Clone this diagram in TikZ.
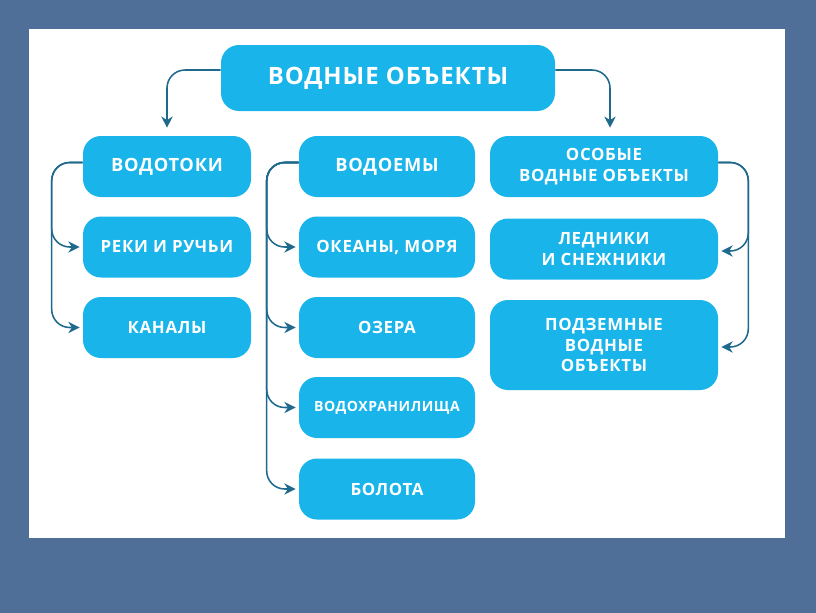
\documentclass[tikz,border=0pt]{standalone}
\usepackage{fontspec}
\setmainfont{Open Sans}
\newfontfamily\kastenschrift[LetterSpace=4]{Open Sans}
\usepackage{tikz}
\usetikzlibrary{arrows.meta}

\definecolor{folie}{RGB}{79,111,153}
\definecolor{kastenblau}{RGB}{24,180,234}
\definecolor{linie}{RGB}{30,105,140}

\tikzset{
  kasten/.style={fill=kastenblau, rounded corners=0.45cm, text=white, align=center,
    inner sep=0pt, minimum height=1.525cm,
    font=\kastenschrift\bfseries\fontsize{12}{14.5}\selectfont},
  gross/.style={font=\kastenschrift\bfseries\fontsize{13}{15}\selectfont},
  pfeil/.style={draw=linie, line width=1.1pt, rounded corners=0.45cm,
    -{Stealth[length=2.8mm,width=2.8mm]}, shorten >=0.08cm}
}

\begin{document}
\begin{tikzpicture}

    % Hintergrund
    \fill[folie] (0,0) rectangle (20.4,-15.325);
    \fill[white] (0.725,-0.725) rectangle (19.625,-13.45);
    \useasboundingbox (0,0) rectangle (20.4,-15.325);

    % Oberbegriff
    \node (wasser) at (9.7,-1.95) [kasten, minimum width=8.35cm, minimum height=1.65cm, font=\kastenschrift\bfseries\fontsize{17}{19}\selectfont] {ВОДНЫЕ ОБЪЕКТЫ};

    % Wasserlaeufe
    \node (vodotoki) at (4.175,-4.1625) [kasten, gross, minimum width=4.2cm] {ВОДОТОКИ};
    \node (reki) at (4.175,-6.175) [kasten, minimum width=4.2cm] {РЕКИ И РУЧЬИ};
    \node (kanaly) at (4.175,-8.1875) [kasten, minimum width=4.2cm] {КАНАЛЫ};

    % Gewaesser
    \node (vodoemy) at (9.675,-4.1625) [kasten, gross, minimum width=4.4cm] {ВОДОЕМЫ};
    \node (okeany) at (9.675,-6.175) [kasten, minimum width=4.4cm] {ОКЕАНЫ, МОРЯ};
    \node (ozera) at (9.675,-8.1875) [kasten, minimum width=4.4cm] {ОЗЕРА};
    \node (vodohran) at (9.675,-10.1875) [kasten, minimum width=4.4cm, font=\kastenschrift\bfseries\fontsize{10}{12}\selectfont] {ВОДОХРАНИЛИЩА};
    \node (bolota) at (9.675,-12.225) [kasten, minimum width=4.4cm] {БОЛОТА};

    % Besondere Objekte
    \node (osobye) at (15.1,-4.1625) [kasten, minimum width=5.7cm] {ОСОБЫЕ\\ВОДНЫЕ ОБЪЕКТЫ};
    \node (ledniki) at (15.1,-6.225) [kasten, minimum width=5.7cm] {ЛЕДНИКИ\\И СНЕЖНИКИ};
    \node (podzem) at (15.1,-8.625) [kasten, minimum width=5.7cm, minimum height=2.25cm] {ПОДЗЕМНЫЕ\\ВОДНЫЕ\\ОБЪЕКТЫ};

    % Pfeile vom Oberbegriff
    \draw[pfeil, shorten >=0.2cm] ([yshift=0.2cm]wasser.west) -| (vodotoki.north);
    \draw[pfeil, shorten >=0.2cm] ([yshift=0.2cm]wasser.east) -| ([xshift=0.15cm]osobye.north);

    % Pfeile in den Spalten
    \foreach \ziel in {reki, kanaly}
        \draw[pfeil] ([yshift=0.1cm]vodotoki.west) -- ++(-0.775,0) |- (\ziel.west);
    \foreach \ziel in {okeany, ozera, vodohran, bolota}
        \draw[pfeil] ([yshift=0.1cm]vodoemy.west) -- ++(-0.8,0) |- (\ziel.west);
    \foreach \ziel in {ledniki, podzem}
        \draw[pfeil] ([yshift=0.1cm]osobye.east) -- ++(0.75,0) |- ([yshift=-0.05cm]\ziel.east);
\end{tikzpicture}
\end{document}
